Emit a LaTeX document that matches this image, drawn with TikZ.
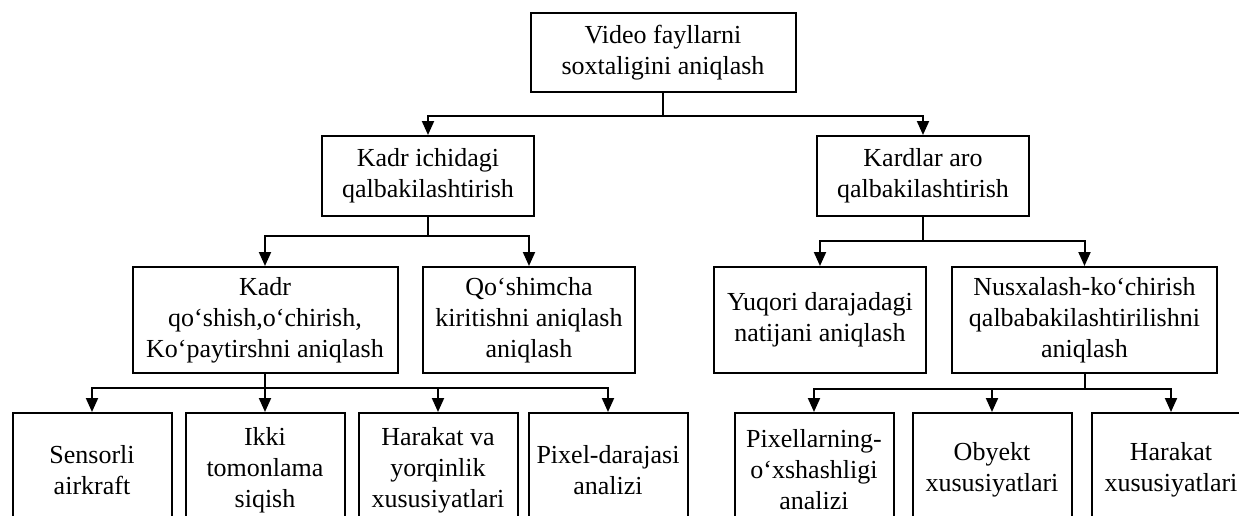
\documentclass[tikz,border=0pt]{standalone}
\usepackage{fontspec}
\setmainfont{Liberation Serif}
\usetikzlibrary{arrows.meta}
\begin{document}
\begin{tikzpicture}[x=0.5pt,y=-0.5pt,
  box/.style={draw=black, line width=1pt, rectangle, inner sep=0pt, align=center,
    font=\fontsize{13}{15.5}\selectfont},
  w212/.style={box, minimum width=106pt, minimum height=40pt},
  w265/.style={box, minimum width=132.5pt, minimum height=53pt},
  mid/.style={box, minimum width=106pt, minimum height=53pt},
  leaf/.style={box, minimum width=79.5pt, minimum height=57pt},
  conn/.style={line width=1pt, -{Triangle[width=6pt,length=7pt]}}
]
\clip (0,0) rectangle (1239,515);
\fill[white] (0,0) rectangle (1239,515);

% level 0
\node[box, minimum width=132.5pt, minimum height=39.5pt] (top) at (663,52.5) {Video fayllarni\\soxtaligini aniqlash};
% level 1
\node[w212] (kadri) at (428,176) {Kadr ichidagi\\qalbakilashtirish};
\node[w212] (karda) at (923,176) {Kardlar aro\\qalbakilashtirish};
% level 2
\node[w265] (kq) at (265,320) {Kadr\\qo‘shish,o‘chirish,\\Ko‘paytirshni aniqlash};
\node[mid] (qosh) at (529,320) {Qo‘shimcha\\kiritishni aniqlash\\aniqlash};
\node[mid] (yuq) at (820,320) {Yuqori darajadagi\\natijani aniqlash};
\node[w265] (nus) at (1084.5,320) {Nusxalash-ko‘chirish\\qalbabakilashtirilishni\\aniqlash};
% level 3
\node[leaf] (b1) at (92,470) {Sensorli\\airkraft};
\node[leaf] (b2) at (265,470) {Ikki\\tomonlama\\siqish};
\node[leaf] (b3) at (438,470) {Harakat va\\yorqinlik\\xususiyatlari};
\node[leaf] (b4) at (608,470) {Pixel-darajasi\\analizi};
\node[leaf] (b5) at (814,470) {Pixellarning-\\o‘xshashligi\\analizi};
\node[leaf] (b6) at (992,470) {Obyekt\\xususiyatlari};
\node[leaf] (b7) at (1171,470) {Harakat\\xususiyatlari};

% connectors
\coordinate (j0) at (663,116);
\draw[line width=1pt] (top.south) -- (j0);
\draw[conn] (j0) -| (kadri.north);
\draw[conn] (j0) -| (karda.north);

\coordinate (j1) at (428,236);
\draw[line width=1pt] (kadri.south) -- (j1);
\draw[conn] (j1) -| (kq.north);
\draw[conn] (j1) -| (qosh.north);

\coordinate (j2) at (923,241);
\draw[line width=1pt] (karda.south) -- (j2);
\draw[conn] (j2) -| (yuq.north);
\draw[conn] (j2) -| (nus.north);

\coordinate (j3) at (265,388);
\draw[line width=1pt] (kq.south) -- (j3);
\draw[conn] (j3) -| (b1.north);
\draw[conn] (j3) -- (b2.north);
\draw[conn] (j3) -| (b3.north);
\draw[conn] (j3) -| (b4.north);

\coordinate (j4) at (1084.5,389);
\draw[line width=1pt] (nus.south) -- (j4);
\draw[conn] (j4) -| (b5.north);
\draw[conn] (j4) -| (b6.north);
\draw[conn] (j4) -| (b7.north);
\end{tikzpicture}
\end{document}
